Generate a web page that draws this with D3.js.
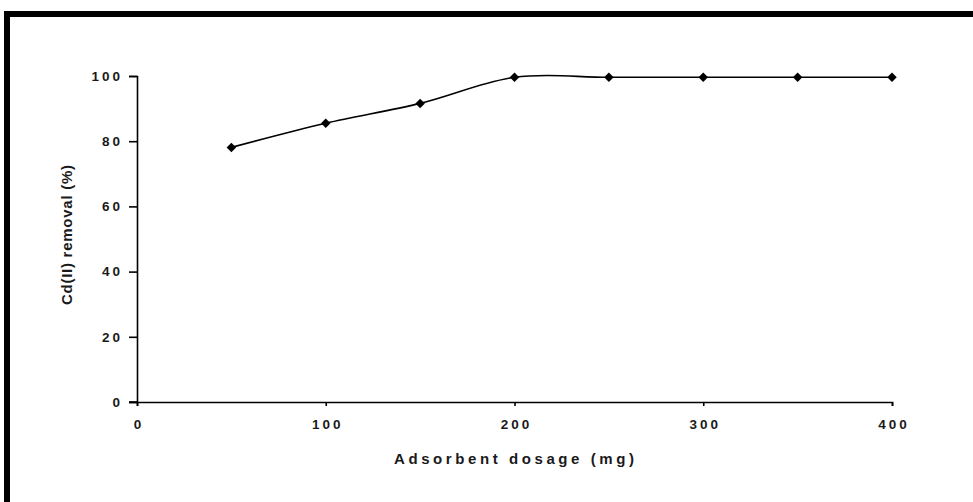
<!DOCTYPE html>
<html>
<head>
<meta charset="utf-8">
<script src="https://cdn.jsdelivr.net/npm/d3@7"></script>
<style>
  body { margin: 0; background: #fff; }
  svg { display: block; }
</style>
</head>
<body>
<svg width="973" height="502"></svg>
<script>
// adsorbent dosage (mg) vs Cd(II) removal (%)
var dosage = [50, 100, 150, 200, 250, 300, 350, 400];
var removal = [78.1, 85.5, 91.6, 99.6, 99.6, 99.6, 99.6, 99.6];
var xTicks = [0, 100, 200, 300, 400];
var yTicks = [0, 20, 40, 60, 80, 100];

var svg = d3.select('svg');
var font = 'Liberation Sans, Arial, sans-serif';

// outer frame (cut off at right and bottom like the picture)
svg.append('rect')
    .attr('x', 7)
    .attr('y', 14)
    .attr('width', 1000)
    .attr('height', 600)
    .attr('fill', 'none')
    .attr('stroke', '#000')
    .attr('stroke-width', 6);

var xScale = d3.scaleLinear()
    .domain([0, 400])
    .range([137, 892]);

var yScale = d3.scaleLinear()
    .domain([0, 100])
    .range([402, 76]);

var data = dosage.map(function(d, i) {
    return {x: d, y: removal[i]};
});

var xAxis = d3.axisBottom(xScale)
    .tickValues(xTicks)
    .tickSize(4)
    .tickPadding(13);

var yAxis = d3.axisLeft(yScale)
    .tickValues(yTicks)
    .tickSize(8)
    .tickPadding(6);

svg.append('g')
    .attr('class', 'x axis')
    .attr('transform', 'translate(0,402)')
    .call(xAxis);

svg.append('g')
    .attr('class', 'y axis')
    .attr('transform', 'translate(137,0)')
    .call(yAxis);

svg.selectAll('.axis path')
    .attr('stroke', '#000')
    .attr('stroke-width', 1.6);
svg.selectAll('.axis line')
    .attr('stroke', '#000')
    .attr('stroke-width', 1.6);
svg.selectAll('.axis text')
    .attr('font-family', font)
    .attr('font-size', '13.5')
    .attr('font-weight', 'bold')
    .attr('letter-spacing', '3')
    .attr('fill', '#1a1a1a');
svg.selectAll('.x.axis text')
    .attr('dx', '1.5');

// x axis extends left to meet the y tick at 0
svg.append('line')
    .attr('x1', 129)
    .attr('x2', 137)
    .attr('y1', 402)
    .attr('y2', 402)
    .attr('stroke', '#000')
    .attr('stroke-width', 1.6);

var line = d3.line()
    .x(function(d) { return xScale(d.x); })
    .y(function(d) { return yScale(d.y); })
    .curve(d3.curveCardinal.tension(0));

svg.append('path')
    .datum(data)
    .attr('d', line)
    .attr('fill', 'none')
    .attr('stroke', '#000')
    .attr('stroke-width', 1.6);

svg.selectAll('.marker')
    .data(data)
    .enter()
    .append('path')
    .attr('class', 'marker')
    .attr('d', d3.symbol(d3.symbolSquare, 45))
    .attr('transform', function(d) {
        return 'translate(' + xScale(d.x) + ',' + yScale(d.y) + ') rotate(45)';
    })
    .attr('fill', '#000');

svg.append('text')
    .attr('class', 'x label')
    .attr('x', 394)
    .attr('y', 464)
    .attr('font-family', font)
    .attr('font-size', '15')
    .attr('font-weight', 'bold')
    .attr('textLength', 240)
    .attr('lengthAdjust', 'spacing')
    .attr('fill', '#1a1a1a')
    .text('Adsorbent dosage (mg)');

svg.append('text')
    .attr('class', 'y label')
    .attr('transform', 'translate(72,305) rotate(-90)')
    .attr('font-family', font)
    .attr('font-size', '15')
    .attr('font-weight', 'bold')
    .attr('textLength', 140)
    .attr('lengthAdjust', 'spacing')
    .attr('fill', '#1a1a1a')
    .text('Cd(II) removal (%)');
</script>
</body>
</html>
